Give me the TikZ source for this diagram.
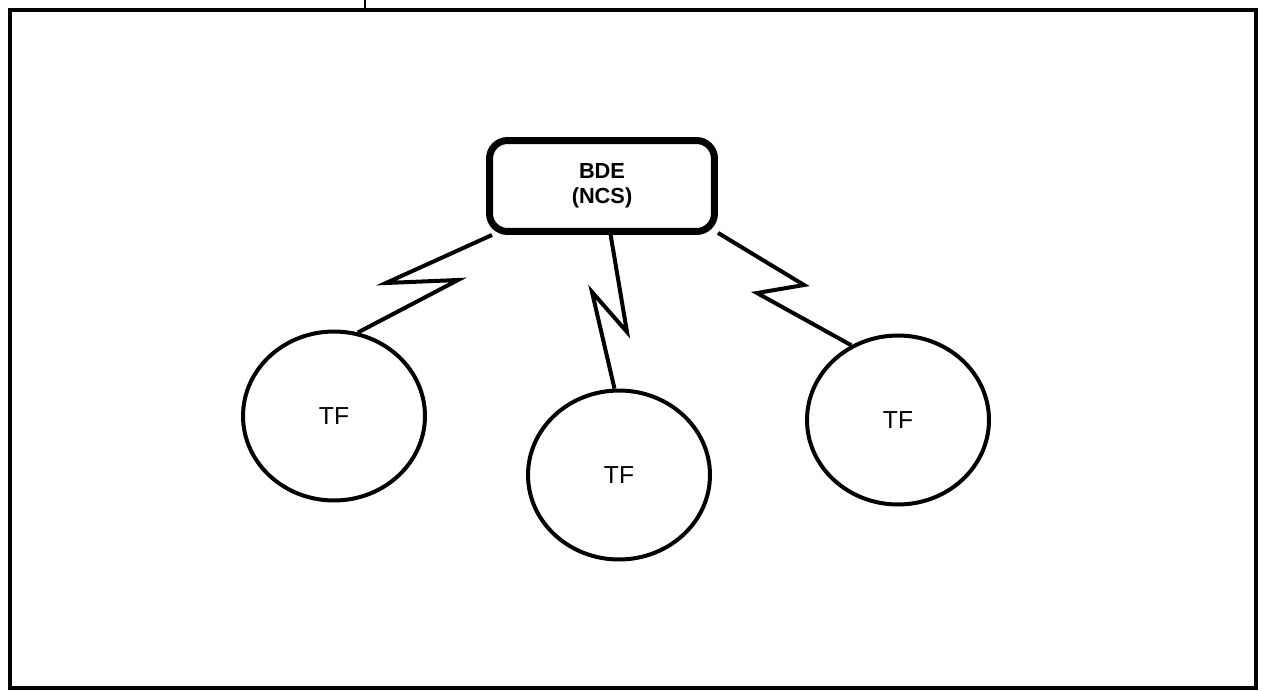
\documentclass[tikz,border=0pt]{standalone}
\usepackage{fontspec}
\setmainfont{Liberation Sans}
\usetikzlibrary{shapes.geometric}

\begin{document}
\begin{tikzpicture}[
    x=0.02cm, y=-0.02cm,
    hub/.style={draw, line width=0.14cm, rounded corners=0.36cm, minimum width=4.5cm, minimum height=1.82cm, align=center, font=\fontsize{12.4}{14.2}\selectfont\bfseries},
    site/.style={draw, ellipse, line width=0.08cm, minimum width=3.64cm, minimum height=3.38cm, inner sep=0pt, font=\fontsize{14}{17}\selectfont},
    link/.style={line width=0.08cm, line join=miter, miter limit=20}
  ]
  \useasboundingbox (0,0) rectangle (1263,690);
  % frame
  \draw[line width=0.09cm] (10,10) rectangle (1256,688);
  \draw[line width=0.04cm] (365,0) -- (365,10);
  % nodes
  \node[hub] (bde) at (602,186) {BDE\\(NCS)};
  \node[site] (tfleft) at (334,416) {TF};
  \node[site] (tfmid) at (619,475) {TF};
  \node[site] (tfright) at (898,420) {TF};
  % radio links
  \coordinate (l1) at (386,283);
  \coordinate (l2) at (458,280);
  \coordinate (m1) at (627,332);
  \coordinate (m2) at (592,292);
  \coordinate (r1) at (804,285);
  \coordinate (r2) at (757,293);
  \draw[link] (bde.204) -- (l1) -- (l2) -- (tfleft.74);
  \draw[link] (bde.-80) -- (m1) -- (m2) -- (tfmid.93);
  \draw[link] (bde.-22) -- (r1) -- (r2) -- (tfright.122);
\end{tikzpicture}
\end{document}
